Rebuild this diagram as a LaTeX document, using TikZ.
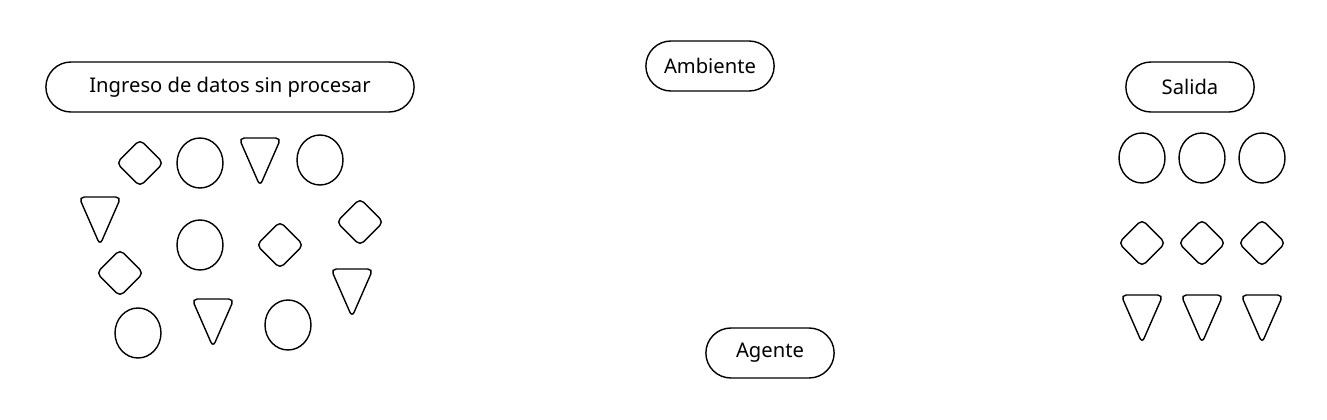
\documentclass[tikz,border=0pt]{standalone}
\usepackage{fontspec}
\setmainfont{Noto Sans}
\usetikzlibrary{shapes.geometric,shapes.misc}
\tikzset{
  pill/.style={draw, line width=0.8pt, rounded rectangle, minimum height=1cm, font=\fontsize{11.5}{13}\selectfont},
  circ/.style={draw, line width=0.8pt, ellipse, minimum width=0.92cm, minimum height=1cm},
  diam/.style={draw, line width=0.8pt, diamond, rounded corners=3pt, minimum width=0.95cm, minimum height=0.95cm},
  tri/.pic={\draw[line width=0.8pt, rounded corners=3pt] (-21,-24) -- (21,-24) -- (0,24) -- cycle;}
}
\begin{document}
\begin{tikzpicture}[x=0.02cm, y=-0.02cm]
    \useasboundingbox (0,0) rectangle (1327,419);

% labels
    \node[pill, minimum width=7.6cm] (ingreso) at (230,87) {Ingreso de datos sin procesar};
    \node[pill, minimum width=2.8cm] (ambiente) at (710,66) {Ambiente};
    \node[pill, minimum width=2.8cm] (salida) at (1190,87) {Salida};
    \node[pill, minimum width=2.8cm] (agente) at (770,353) {Agente};

% raw input shapes
    \foreach \x/\y [count=\i] in {200/163, 320/160, 200/245, 138/333, 288/325}
        \node[circ] (c\i) at (\x,\y) {};
    \foreach \x/\y [count=\i] in {140/163, 280/245, 360/222, 120/273}
        \node[diam] (d\i) at (\x,\y) {};
    \foreach \x/\y in {260/162, 100/221, 352/293, 213/323}
        \pic at (\x,\y) {tri};

% output shapes
    \foreach \x [count=\i] in {1142, 1202, 1262} {
        \node[circ] (oc\i) at (\x,158) {};
        \node[diam] (od\i) at (\x,243) {};
        \pic at (\x,319) {tri};
    }
\end{tikzpicture}
\end{document}
